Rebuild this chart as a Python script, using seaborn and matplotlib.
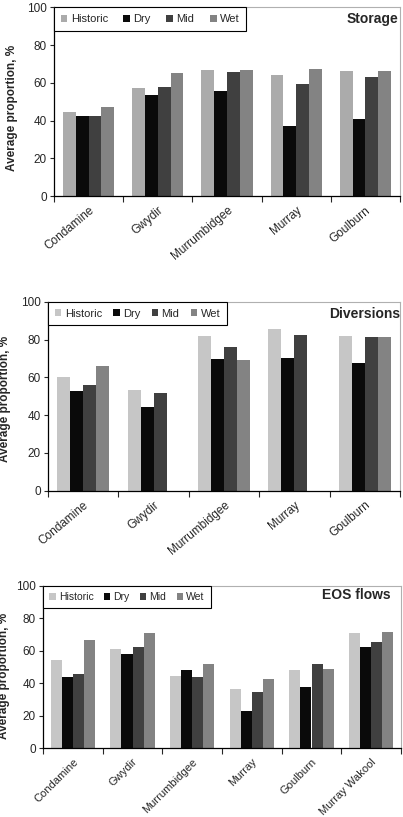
import numpy as np
import pandas as pd
import matplotlib
matplotlib.use("Agg")
import matplotlib.pyplot as plt
import seaborn as sns
from matplotlib.patches import Patch

# ---------------- data ----------------
scenarios = ["Historic", "Dry", "Mid", "Wet"]

storage_sites = ["Condamine", "Gwydir", "Murrumbidgee", "Murray", "Goulburn"]
storage_historic = [44.7, 57.4, 66.9, 64.4, 66.4]
storage_dry = [42.3, 53.5, 55.8, 37.1, 40.8]
storage_mid = [42.6, 57.9, 66.0, 59.5, 63.0]
storage_wet = [47.2, 65.0, 66.9, 67.4, 66.4]

diversion_sites = ["Condamine", "Gwydir", "Murrumbidgee", "Murray", "Goulburn"]
diversion_historic = [60.5, 53.4, 81.8, 85.9, 81.8]
diversion_dry = [52.7, 44.3, 70.0, 70.5, 67.4]
diversion_mid = [56.1, 52.0, 76.2, 82.4, 81.3]
diversion_wet = [66.1, np.nan, 69.3, np.nan, 81.3]   # no Wet bar for Gwydir / Murray

eos_sites = ["Condamine", "Gwydir", "Murrumbidgee", "Murray", "Goulburn", "Murray Wakool"]
eos_historic = [54.3, 61.3, 44.3, 36.3, 48.0, 70.9]
eos_dry = [44.0, 58.2, 48.0, 22.7, 37.7, 62.3]
eos_mid = [46.0, 62.3, 43.9, 34.6, 51.6, 65.2]
eos_wet = [66.4, 70.9, 51.8, 42.4, 48.8, 71.3]

colours_storage = {"Historic": "#ababab", "Dry": "#0a0a0a", "Mid": "#404040", "Wet": "#838383"}
colours = {"Historic": "#c6c6c6", "Dry": "#0a0a0a", "Mid": "#404040", "Wet": "#838383"}


def to_long(sites, hist, dry, mid, wet):
    df = pd.DataFrame({"site": sites, "Historic": hist, "Dry": dry, "Mid": mid, "Wet": wet})
    df = df.melt(id_vars="site", var_name="scenario", value_name="value")
    return df.dropna()


sns.set_style("ticks")
plt.rcParams["font.family"] = ["Liberation Sans", "DejaVu Sans"]

fig = plt.figure(figsize=(4.03, 8.17), dpi=100)

panels = [
    dict(title="Storage", sites=storage_sites, pal=colours_storage,
         vals=(storage_historic, storage_dry, storage_mid, storage_wet),
         rect=[54 / 403, 0.760, 346 / 403, 0.231], ylab=(-0.104, 0.468), tpos=(0.995, 0.94),
         xfs=8.5, rot=40, legfs=8, colsp=1.4),
    dict(title="Diversions", sites=diversion_sites, pal=colours,
         vals=(diversion_historic, diversion_dry, diversion_mid, diversion_wet),
         rect=[48 / 403, 0.3994, 352 / 403, 0.231], ylab=(-0.1065, 0.484), tpos=(1.0, 0.937),
         xfs=8.5, rot=40, legfs=8, colsp=1.0),
    dict(title="EOS flows", sites=eos_sites, pal=colours,
         vals=(eos_historic, eos_dry, eos_mid, eos_wet),
         rect=[43 / 403, 0.0841, 358 / 403, 0.199], ylab=(-0.091, 0.445), tpos=(0.97, 0.943),
         xfs=8, rot=45, legfs=7.5, colsp=1.0),
]

for p in panels:
    ax = fig.add_axes(p["rect"])
    sites = p["sites"]
    df = to_long(sites, *p["vals"])
    sns.barplot(data=df, x="site", y="value", hue="scenario", order=sites,
                hue_order=scenarios, palette=p["pal"], saturation=1,
                width=0.74, linewidth=0, errorbar=None, ax=ax)

    n = len(sites)
    ax.set_xlim(-0.5, n - 0.5)
    ax.set_ylim(0, 100)
    ax.set_yticks(np.arange(0, 101, 20))
    ax.tick_params(axis="y", labelsize=8.5, length=3, width=0.8, pad=2)

    # category labels at centres, tick marks at group boundaries
    ax.set_xticks(np.arange(n))
    ax.set_xticklabels(sites, rotation=p["rot"], ha="right", rotation_mode="anchor", fontsize=p["xfs"])
    ax.tick_params(axis="x", which="major", length=0, pad=6)
    ax.set_xticks(np.arange(n + 1) - 0.5, minor=True)
    ax.tick_params(axis="x", which="minor", length=4, width=0.8, direction="out")

    ax.set_xlabel("")
    ax.set_ylabel("Average proportion, %", fontsize=8.5, fontweight="bold")
    ax.yaxis.set_label_coords(*p["ylab"])

    for s in ["left", "bottom"]:
        ax.spines[s].set_color("black")
        ax.spines[s].set_linewidth(0.9)
    for s in ["top", "right"]:
        ax.spines[s].set_color("#b0b0b0")
        ax.spines[s].set_linewidth(0.8)

    ax.text(p["tpos"][0], p["tpos"][1], p["title"], transform=ax.transAxes, ha="right", va="center",
            fontsize=10, fontweight="bold")

    handles = [Patch(facecolor=p["pal"][s], edgecolor="none", label=s) for s in scenarios]
    leg = ax.legend(handles=handles, ncol=4, loc="upper left", bbox_to_anchor=(0, 1),
                    borderaxespad=0, fancybox=False, edgecolor="black", framealpha=1,
                    fontsize=p["legfs"], handlelength=0.6, handleheight=0.6, handletextpad=0.3,
                    columnspacing=p["colsp"], borderpad=0.6)
    leg.get_frame().set_linewidth(0.8)

fig.savefig("out.png", dpi=100)
